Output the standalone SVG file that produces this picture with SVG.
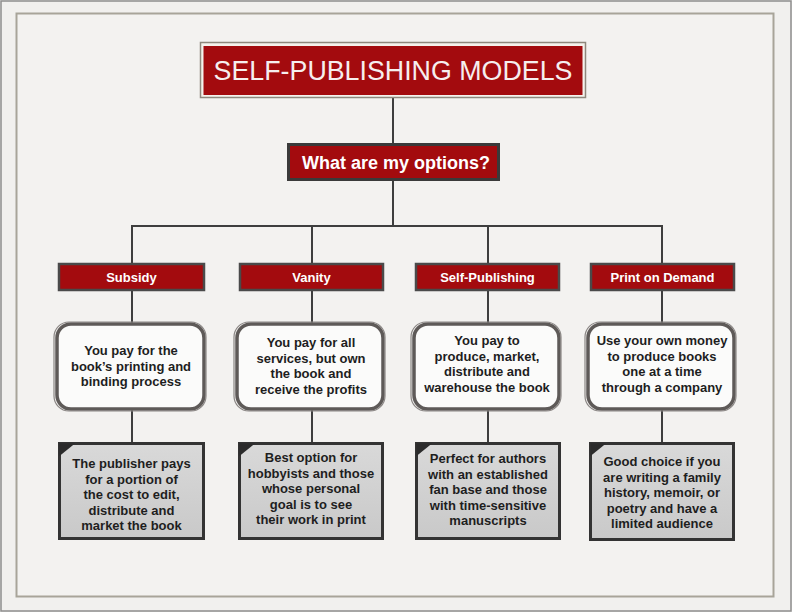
<svg xmlns="http://www.w3.org/2000/svg" width="792" height="612" viewBox="0 0 792 612">
<defs>
<style>
.lbl{fill:#a30b0e;stroke:#4a4a4a;stroke-width:2.5}
.lt{font-family:"Liberation Sans",Arial,sans-serif;font-weight:bold;font-size:13px;fill:#fff;text-anchor:middle}
.rb{fill:#fbfbfa;stroke:#5e5a58;stroke-width:3.5}
.rb2{fill:none;stroke:#8a8684;stroke-width:1.2}
.bt{font-family:"Liberation Sans",Arial,sans-serif;font-weight:bold;font-size:13px;fill:#1e1e1e;text-anchor:middle}
.gb{fill:url(#g);stroke:#333;stroke-width:3}
.tri{fill:#2b2b2b}
.ln{stroke:#3e3e3e;stroke-width:2;fill:none}
</style>
<linearGradient id="g" x1="0" y1="0" x2="0" y2="1">
<stop offset="0" stop-color="#d9d9d9"/>
<stop offset="1" stop-color="#c9c9c9"/>
</linearGradient>
</defs>
<rect x="0" y="0" width="792" height="612" fill="#f1f0ee"/>
<rect x="1" y="1" width="790" height="610" fill="none" stroke="#8d8d8d" stroke-width="1.5"/>
<rect x="16.5" y="13.5" width="757" height="583" fill="#f3f2f0" stroke="#a8a499" stroke-width="2"/>

<g id="connectors">
<line class="ln" x1="393" y1="98" x2="393" y2="145"/>
<line class="ln" x1="393" y1="180" x2="393" y2="226"/>
<line class="ln" x1="131" y1="226" x2="663" y2="226"/>
<line class="ln" x1="132" y1="225" x2="132" y2="443"/>
<line class="ln" x1="312" y1="225" x2="312" y2="443"/>
<line class="ln" x1="488" y1="225" x2="488" y2="443"/>
<line class="ln" x1="662" y1="225" x2="662" y2="443"/>
</g>

<g id="title">
<rect x="200.5" y="42.5" width="385" height="55" fill="#f5f2ec" stroke="#8e877c" stroke-width="1.5"/>
<rect x="203.5" y="46" width="379" height="49" fill="#a30b0e"/>
<text x="393" y="80" font-family="Liberation Sans,Arial,sans-serif" font-size="26.8" fill="#f6eeee" text-anchor="middle">SELF-PUBLISHING MODELS</text>
</g>

<g id="options">
<rect x="288.5" y="144.5" width="210" height="35" fill="#a30b0e" stroke="#3a3a3a" stroke-width="3"/>
<text x="396" y="169" font-family="Liberation Sans,Arial,sans-serif" font-weight="bold" font-size="18" fill="#fff" text-anchor="middle">What are my options?</text>
</g>

<g id="subsidy">
<rect class="lbl" x="59" y="264" width="145" height="26"/>
<text class="lt" x="131.5" y="282">Subsidy</text>
</g>
<g id="vanity">
<rect class="lbl" x="240" y="264" width="143" height="26"/>
<text class="lt" x="311.5" y="282">Vanity</text>
</g>
<g id="selfpub">
<rect class="lbl" x="416" y="264" width="143" height="26"/>
<text class="lt" x="487.5" y="282">Self-Publishing</text>
</g>
<g id="pod">
<rect class="lbl" x="591" y="264" width="143" height="26"/>
<text class="lt" x="662.5" y="282">Print on Demand</text>
</g>

<g id="subsidy-desc">
<rect class="rb" x="57" y="324" width="147" height="85" rx="14"/>
<rect class="rb2" x="54" y="322" width="152" height="89" rx="15"/>
<text class="bt" x="131" y="355">You pay for the</text>
<text class="bt" x="131" y="370.5">book’s printing and</text>
<text class="bt" x="131" y="386">binding process</text>
</g>
<g id="vanity-desc">
<rect class="rb" x="237" y="324" width="146" height="85" rx="14"/>
<rect class="rb2" x="234" y="322" width="151" height="89" rx="15"/>
<text class="bt" x="311" y="347">You pay for all</text>
<text class="bt" x="311" y="362.5">services, but own</text>
<text class="bt" x="311" y="378">the book and</text>
<text class="bt" x="311" y="393.5">receive the profits</text>
</g>
<g id="selfpub-desc">
<rect class="rb" x="414" y="324" width="145" height="85" rx="14"/>
<rect class="rb2" x="411" y="322" width="150" height="89" rx="15"/>
<text class="bt" x="487" y="345">You pay to</text>
<text class="bt" x="487" y="360.5">produce, market,</text>
<text class="bt" x="487" y="376">distribute and</text>
<text class="bt" x="487" y="391.5">warehouse the book</text>
</g>
<g id="pod-desc">
<rect class="rb" x="588" y="324" width="146" height="85" rx="14"/>
<rect class="rb2" x="585" y="322" width="151" height="89" rx="15"/>
<text class="bt" x="662" y="345">Use your own money</text>
<text class="bt" x="662" y="360.5">to produce books</text>
<text class="bt" x="662" y="376">one at a time</text>
<text class="bt" x="662" y="391.5">through a company</text>
</g>

<g id="subsidy-note">
<rect class="gb" x="59.5" y="443.5" width="144" height="95"/>
<polygon class="tri" points="59.5,443.5 75,443.5 59.5,456"/>
<text class="bt" x="131.5" y="468">The publisher pays</text>
<text class="bt" x="131.5" y="483.5">for a portion of</text>
<text class="bt" x="131.5" y="499">the cost to edit,</text>
<text class="bt" x="131.5" y="514.5">distribute and</text>
<text class="bt" x="131.5" y="530">market the book</text>
</g>
<g id="vanity-note">
<rect class="gb" x="239.5" y="443.5" width="143" height="95"/>
<polygon class="tri" points="239.5,443.5 255,443.5 239.5,456"/>
<text class="bt" x="311" y="462">Best option for</text>
<text class="bt" x="311" y="477.5">hobbyists and those</text>
<text class="bt" x="311" y="493">whose personal</text>
<text class="bt" x="311" y="508.5">goal is to see</text>
<text class="bt" x="311" y="524">their work in print</text>
</g>
<g id="selfpub-note">
<rect class="gb" x="416.5" y="443.5" width="143" height="95"/>
<polygon class="tri" points="416.5,443.5 432,443.5 416.5,456"/>
<text class="bt" x="488" y="463">Perfect for authors</text>
<text class="bt" x="488" y="478.5">with an established</text>
<text class="bt" x="488" y="494">fan base and those</text>
<text class="bt" x="488" y="509.5">with time-sensitive</text>
<text class="bt" x="488" y="525">manuscripts</text>
</g>
<g id="pod-note">
<rect class="gb" x="590.5" y="443.5" width="143" height="96"/>
<polygon class="tri" points="590.5,443.5 606,443.5 590.5,456"/>
<text class="bt" x="662" y="466">Good choice if you</text>
<text class="bt" x="662" y="481.5">are writing a family</text>
<text class="bt" x="662" y="497">history, memoir, or</text>
<text class="bt" x="662" y="512.5">poetry and have a</text>
<text class="bt" x="662" y="528">limited audience</text>
</g>
</svg>
